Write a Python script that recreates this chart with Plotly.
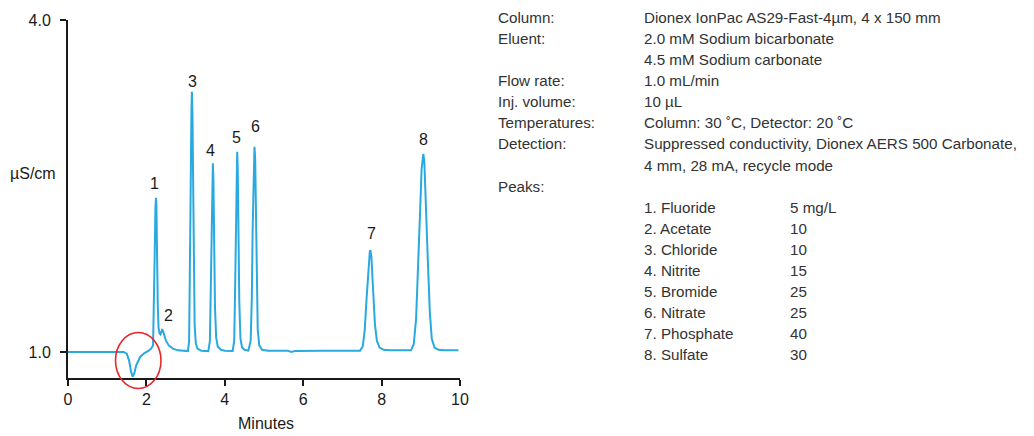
import plotly.graph_objects as go

# ---------------- data ----------------
time_min = [
    0.00, 1.42, 1.50, 1.56, 1.61, 1.65, 1.69, 1.74, 1.84, 1.95, 2.05, 2.12, 2.17,
    2.19, 2.21, 2.23, 2.245, 2.255, 2.27, 2.29, 2.31, 2.335, 2.36, 2.38, 2.40, 2.42, 2.45,
    2.50, 2.58, 2.68, 2.80, 2.95, 3.06,
    3.09, 3.11, 3.13, 3.15, 3.161, 3.175, 3.19, 3.21, 3.23, 3.26, 3.30, 3.40, 3.58,
    3.62, 3.64, 3.66, 3.68, 3.696, 3.71, 3.73, 3.75, 3.78, 3.82, 3.90, 4.00, 4.20,
    4.24, 4.26, 4.28, 4.30, 4.316, 4.33, 4.35, 4.37, 4.40, 4.44, 4.50, 4.60,
    4.66, 4.69, 4.71, 4.73, 4.757, 4.775, 4.79, 4.81, 4.84, 4.88, 4.95, 5.10,
    5.60, 5.70, 5.80, 6.50, 7.45,
    7.52, 7.57, 7.62, 7.67, 7.70, 7.713, 7.74, 7.78, 7.83, 7.88, 7.95, 8.05, 8.20, 8.75,
    8.82, 8.88, 8.93, 8.98, 9.02, 9.05, 9.064, 9.09, 9.13, 9.18, 9.23, 9.28, 9.35, 9.45,
    9.60, 9.96,
]
signal_uScm = [
    1.000, 1.000, 0.985, 0.920, 0.820, 0.778, 0.805, 0.880, 0.955, 0.990, 1.010, 1.030, 1.060,
    1.350, 1.850, 2.300, 2.394, 2.330, 1.850, 1.420, 1.220, 1.170, 1.160, 1.180, 1.200, 1.195, 1.150,
    1.100, 1.055, 1.030, 1.015, 1.008, 1.008,
    1.100, 1.600, 2.500, 3.200, 3.352, 3.150, 2.450, 1.650, 1.250, 1.080, 1.030, 1.012, 1.008,
    1.100, 1.500, 2.150, 2.600, 2.705, 2.550, 1.950, 1.400, 1.130, 1.050, 1.020, 1.012, 1.010,
    1.100, 1.500, 2.200, 2.700, 2.810, 2.650, 2.000, 1.450, 1.120, 1.040, 1.020, 1.012,
    1.100, 1.500, 2.100, 2.600, 2.855, 2.750, 2.250, 1.600, 1.200, 1.060, 1.020, 1.012,
    1.012, 1.000, 1.010, 1.012, 1.012,
    1.050, 1.200, 1.500, 1.800, 1.910, 1.920, 1.860, 1.580, 1.250, 1.100, 1.040, 1.020, 1.015, 1.015,
    1.070, 1.300, 1.700, 2.250, 2.650, 2.780, 2.790, 2.720, 2.380, 1.820, 1.360, 1.120, 1.040, 1.020,
    1.015, 1.015,
]

peak_labels = ["1", "2", "3", "4", "5", "6", "7", "8"]
peak_label_time = [2.20, 2.565, 3.186, 3.645, 4.308, 4.792, 7.73, 9.08]
peak_label_signal = [2.524, 1.334, 3.442, 2.819, 2.940, 3.042, 2.073, 2.922]

x_ticks = [0, 2, 4, 6, 8, 10]
y_ticks = [1.0, 4.0]
y_tick_text = ["1.0", "4.0"]

cond_labels = ["Column:", "Eluent:", "", "Flow rate:", "Inj. volume:", "Temperatures:",
               "Detection:", "", "Peaks:"]
cond_values = ["Dionex IonPac AS29-Fast-4\u00b5m, 4 x 150 mm",
               "2.0 mM Sodium bicarbonate",
               "4.5 mM Sodium carbonate",
               "1.0 mL/min",
               "10 \u00b5L",
               "Column: 30 \u02daC, Detector: 20 \u02daC",
               "Suppressed conductivity, Dionex AERS 500 Carbonate,",
               "4 mm, 28 mA, recycle mode",
               ""]
peak_names = ["1. Fluoride", "2. Acetate", "3. Chloride", "4. Nitrite",
              "5. Bromide", "6. Nitrate", "7. Phosphate", "8. Sulfate"]
peak_conc = ["5 mg/L", "10", "10", "15", "25", "25", "40", "30"]

# ---------------- layout geometry (page has an 8 px body margin) ----------------
W, H = 1034, 436
OFF = 8
ML, MT = 60, 12                 # plot left/top inside the figure
PLOT_R, PLOT_B = 452, 370       # plot right/bottom inside the figure
MR, MB = W - PLOT_R, H - PLOT_B
PW, PH = PLOT_R - ML, PLOT_B - MT
Y_MIN, Y_MAX = 0.765, 4.0


def px(x):
    """page pixel x -> paper fraction"""
    return (x - OFF - ML) / PW


def py(y):
    """page pixel y -> paper fraction"""
    return (PLOT_B - (y - OFF)) / PH


FONT = "Liberation Sans, Arial, sans-serif"
TXT = "#333333"
AX = "#1a1a1a"
LINE = "#29a9e0"

fig = go.Figure()
fig.add_trace(go.Scatter(x=time_min, y=signal_uScm, mode="lines",
                         line=dict(color=LINE, width=2), hoverinfo="skip",
                         showlegend=False))

annotations = []
for lab, t, v in zip(peak_labels, peak_label_time, peak_label_signal):
    annotations.append(dict(x=t, y=v, xref="x", yref="y", text=lab, showarrow=False,
                            xanchor="center", yanchor="middle",
                            font=dict(family=FONT, size=16, color=AX)))

annotations.append(dict(x=px(8), y=py(173), xref="paper", yref="paper", text="\u00b5S/cm",
                        showarrow=False, xanchor="left", yanchor="middle",
                        font=dict(family=FONT, size=16, color=AX)))
annotations.append(dict(x=px(266), y=py(423), xref="paper", yref="paper", text="Minutes",
                        showarrow=False, xanchor="center", yanchor="middle",
                        font=dict(family=FONT, size=16, color=AX)))

ROW0, DY = 17.3, 21.1
TS = 15.2
COL1, COL2, COL3 = 496, 642, 788
for i, (lab, val) in enumerate(zip(cond_labels, cond_values)):
    yy = py(ROW0 + i * DY)
    if lab:
        annotations.append(dict(x=px(COL1), y=yy, xref="paper", yref="paper", text=lab,
                                showarrow=False, xanchor="left", yanchor="middle",
                                font=dict(family=FONT, size=TS, color=TXT)))
    if val:
        annotations.append(dict(x=px(COL2), y=yy, xref="paper", yref="paper", text=val,
                                showarrow=False, xanchor="left", yanchor="middle",
                                font=dict(family=FONT, size=TS, color=TXT)))
for j, (nm, cc) in enumerate(zip(peak_names, peak_conc)):
    yy = py(ROW0 + (len(cond_labels) + j) * DY)
    annotations.append(dict(x=px(COL2), y=yy, xref="paper", yref="paper", text=nm,
                            showarrow=False, xanchor="left", yanchor="middle",
                            font=dict(family=FONT, size=TS, color=TXT)))
    annotations.append(dict(x=px(COL3), y=yy, xref="paper", yref="paper", text=cc,
                            showarrow=False, xanchor="left", yanchor="middle",
                            font=dict(family=FONT, size=TS, color=TXT)))

shapes = [dict(type="circle", xref="paper", yref="paper",
               x0=px(115.5), x1=px(161), y0=py(388.5), y1=py(332.5),
               line=dict(color="#e8262a", width=1.6), layer="above")]

fig.update_layout(
    width=W, height=H,
    margin=dict(l=ML, r=MR, t=MT, b=MB, pad=0, autoexpand=False),
    paper_bgcolor="white", plot_bgcolor="white",
    annotations=annotations, shapes=shapes,
    xaxis=dict(range=[0, 10], tickvals=x_ticks, ticks="outside", ticklen=6,
               tickwidth=1.5, tickcolor=AX, showline=True, linecolor=AX,
               linewidth=2, showgrid=False, zeroline=False, automargin=False,
               tickfont=dict(family=FONT, size=16, color=AX)),
    yaxis=dict(range=[Y_MIN, Y_MAX], tickvals=y_ticks, ticktext=y_tick_text,
               ticks="outside", ticklen=6, tickwidth=1.5, tickcolor=AX,
               ticklabelstandoff=6, automargin=False,
               showline=True, linecolor=AX, linewidth=2, showgrid=False,
               zeroline=False, tickfont=dict(family=FONT, size=16, color=AX)),
)

fig.write_html("out.html")
